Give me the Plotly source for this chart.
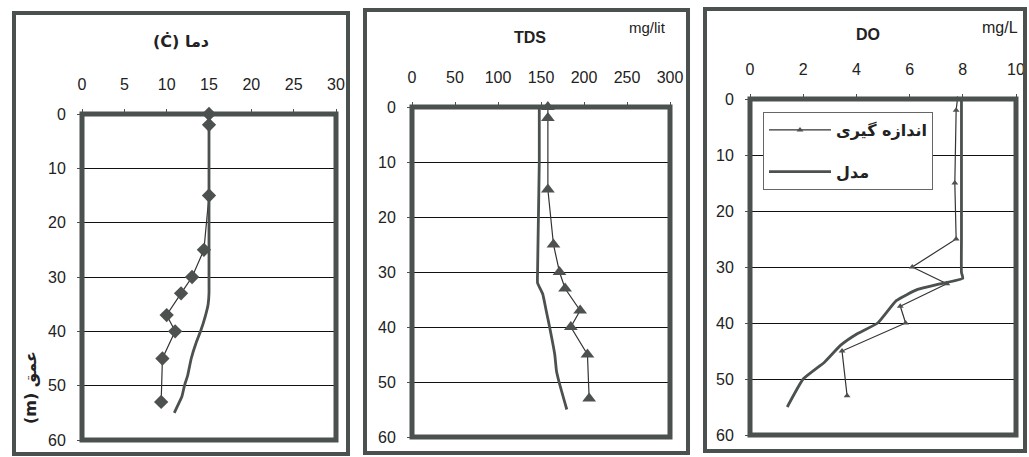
import plotly.graph_objects as go

W, H = 1029, 457

# ---------------- data ----------------
meas_depth = [0, 2, 15, 25, 30, 33, 37, 40, 45, 53]

temp_meas = [15.0, 15.0, 15.0, 14.4, 13.0, 11.7, 10.0, 11.0, 9.5, 9.35]
temp_model_depth = [0, 10, 20, 30, 33, 35, 37, 40, 42, 45, 48, 50, 52, 54, 55]
temp_model = [15.0, 15.0, 15.0, 15.0, 15.0, 14.9, 14.6, 14.0, 13.5, 12.9, 12.5, 12.1, 11.8, 11.2, 10.9]

tds_meas = [158, 158, 158, 164.5, 171.5, 178, 195.5, 184.7, 204, 206]
tds_model_depth = [0, 10, 20, 30, 32, 34, 37, 40, 45, 48, 50, 55]
tds_model = [148, 148, 147, 146, 146, 152, 156, 160, 166, 168, 171, 180]

do_meas = [7.8, 7.75, 7.7, 7.75, 6.1, 7.4, 5.65, 5.85, 3.46, 3.65]
do_model_depth = [0, 10, 20, 25, 31, 32, 33, 34, 36, 40, 42, 44, 47, 50, 55]
do_model = [7.95, 7.95, 7.95, 7.95, 7.95, 8.0, 7.15, 6.3, 5.5, 4.8, 4.0, 3.4, 2.8, 2.0, 1.4]

depth_ticks = [0, 10, 20, 30, 40, 50, 60]
temp_ticks = [0, 5, 10, 15, 20, 25, 30]
tds_ticks = [0, 50, 100, 150, 200, 250, 300]
do_ticks = [0, 2, 4, 6, 8, 10]

name_meas = "اندازه گیری"
name_model = "مدل"

# ---------------- styling ----------------
FONT = "Liberation Sans, Arial, DejaVu Sans, sans-serif"
BORDER = "#4b514e"
LINE_MEAS = "#333333"
LINE_MODEL = "#4b514e"
MARK = "#4d524f"
TXT = "#222222"

def px_x(p):
    return p / W

def px_y(p):
    return 1 - p / H

# plot areas in pixels: (x0, x1, ytop, ybottom)
areas = [(82, 336, 114, 440), (412, 670, 107, 437), (750, 1016, 99, 435)]

fig = go.Figure()

panels = [
    (temp_meas, meas_depth, temp_model, temp_model_depth, "diamond", 11, [0, 30], temp_ticks, "x", "y"),
    (tds_meas, meas_depth, tds_model, tds_model_depth, "triangle-up", 12, [0, 300], tds_ticks, "x2", "y2"),
    (do_meas, meas_depth, do_model, do_model_depth, "triangle-up", 6, [0, 10], do_ticks, "x3", "y3"),
]

for i, (mx, my, lx, ly, sym, msz, xr, xt, xa, ya) in enumerate(panels):
    show = (i == 2)
    fig.add_trace(go.Scatter(
        x=mx, y=my, mode="lines+markers", name=name_meas,
        line=dict(color=LINE_MEAS, width=1.2),
        marker=dict(symbol=sym, size=msz, color=MARK, line=dict(width=0)),
        xaxis=xa, yaxis=ya, showlegend=show, legendgroup="a", cliponaxis=False,
    ))
    fig.add_trace(go.Scatter(
        x=lx, y=ly, mode="lines", name=name_model,
        line=dict(color=LINE_MODEL, width=2.8, shape="spline", smoothing=0.4),
        xaxis=xa, yaxis=ya, showlegend=show, legendgroup="b",
    ))

layout = dict(
    width=W, height=H,
    margin=dict(l=0, r=0, t=0, b=0, pad=0, autoexpand=False),
    paper_bgcolor="white", plot_bgcolor="white",
    font=dict(family=FONT, size=16, color=TXT),
    showlegend=True,
    legend=dict(
        x=px_x(763), y=px_y(112), xanchor="left", yanchor="top",
        bgcolor="white", bordercolor="#666666", borderwidth=1,
        font=dict(family="DejaVu Sans, sans-serif", size=16, color=TXT, weight="bold"),
        itemwidth=62, tracegroupgap=18, traceorder="grouped",
    ),
)

for i, (x0, x1, yt, yb) in enumerate(areas):
    sfx = "" if i == 0 else str(i + 1)
    xr = panels[i][6]
    xt = panels[i][7]
    layout["xaxis" + sfx] = dict(
        domain=[px_x(x0), px_x(x1)], range=xr, side="top",
        anchor="y" + sfx, tickvals=xt, ticktext=[str(v) for v in xt],
        ticks="outside", ticklen=4, tickcolor=BORDER, tickwidth=1,
        ticklabelstandoff=13, showgrid=False, zeroline=False,
        showline=False, fixedrange=True, automargin=False,
        tickfont=dict(size=16, color=TXT),
    )
    layout["yaxis" + sfx] = dict(
        domain=[px_y(yb), px_y(yt)], range=[60, 0],
        anchor="x" + sfx, tickvals=depth_ticks, ticktext=[str(v) for v in depth_ticks],
        ticks="outside", ticklen=4, tickcolor=BORDER, tickwidth=1,
        ticklabelstandoff=8, automargin=False,
        showgrid=True, gridcolor="#111111", gridwidth=1,
        zeroline=False, showline=False, fixedrange=True,
        tickfont=dict(size=16, color=TXT),
    )

fig.update_layout(**layout)

shapes = []
# plot-area thick borders
for i in range(3):
    sfx = "" if i == 0 else str(i + 1)
    shapes.append(dict(type="rect", xref=("x" + sfx + " domain"), yref=("y" + sfx + " domain"),
                       x0=0, x1=1, y0=0, y1=1, line=dict(color=BORDER, width=5), layer="above"))
# outer panel borders
outer = [(14, 348, 13, 454), (365, 688, 10, 453), (705, 1025, 9, 451)]
for (a, b, t, bt) in outer:
    shapes.append(dict(type="rect", xref="paper", yref="paper",
                       x0=px_x(a), x1=px_x(b), y0=px_y(bt), y1=px_y(t),
                       line=dict(color=BORDER, width=4), layer="above"))
fig.update_layout(shapes=shapes)

ann = [
    dict(text="(Ċ) دما", x=px_x(181), y=px_y(42), font=dict(size=16, family="DejaVu Sans, sans-serif", weight="bold")),
    dict(text="TDS", x=px_x(530), y=px_y(37), font=dict(size=16, weight="bold")),
    dict(text="mg/lit", x=px_x(647), y=px_y(28), font=dict(size=15)),
    dict(text="DO", x=px_x(868), y=px_y(35), font=dict(size=16, weight="bold")),
    dict(text="mg/L", x=px_x(1000), y=px_y(28), font=dict(size=16)),
    dict(text="(m) عمق", x=px_x(30), y=px_y(388), textangle=-90,
         font=dict(size=16, family="DejaVu Sans, sans-serif", weight="bold")),
]
for a in ann:
    f = dict(family=FONT, color=TXT)
    f.update(a.pop("font"))
    fig.add_annotation(xref="paper", yref="paper", xanchor="center", yanchor="middle",
                       showarrow=False, font=f, **a)

fig.write_html(
    "out.html",
    config={"displayModeBar": False},
    post_script="document.body.style.margin='0';document.body.style.padding='0';document.body.style.overflow='hidden';",
)
